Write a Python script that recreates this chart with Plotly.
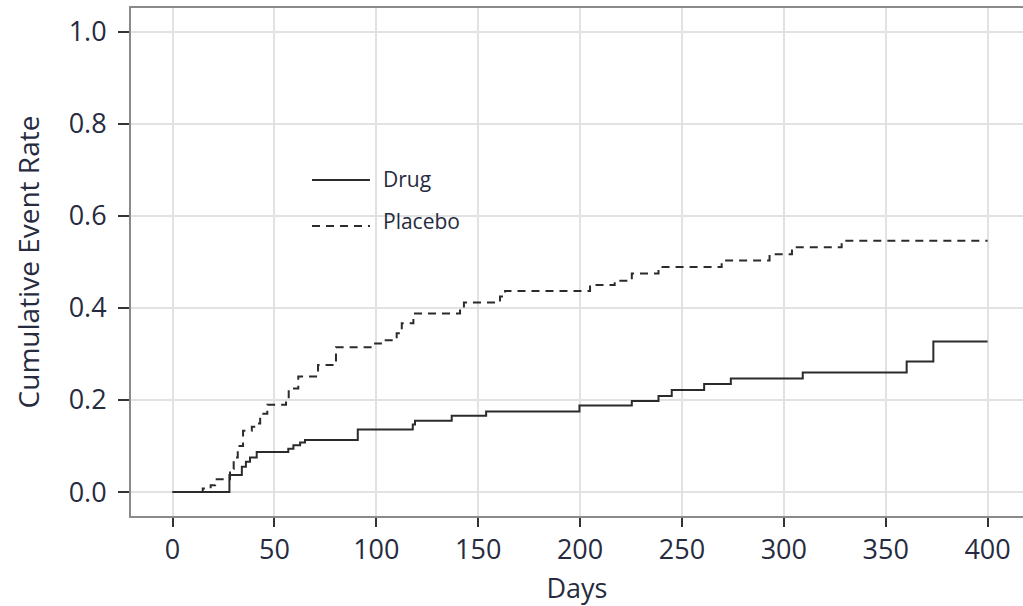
import plotly.graph_objects as go

# Step-function data (days, cumulative event rate)
drug_days = [0, 27.9, 34, 36, 38, 41.3, 56.8, 59.3, 62.6, 65, 90.9, 117.9, 119, 137, 153.9,
             199.7, 225.4, 238.5, 245, 260.9, 274, 309.3, 360.3, 373.4, 400]
drug_rate = [0, 0.037, 0.055, 0.066, 0.075, 0.087, 0.094, 0.102, 0.108, 0.113, 0.136, 0.147, 0.155, 0.166, 0.175,
             0.188, 0.198, 0.209, 0.222, 0.235, 0.247, 0.26, 0.284, 0.327, 0.327]

placebo_days = [0, 14.8, 18.7, 20.9, 28.2, 30, 32, 34.6, 38.9, 41.3, 43, 46.5, 55.7, 57, 61.7, 71.4, 80.2,
                99.4, 104, 110, 112.5, 118.2, 141.1, 143, 160.7, 163.2, 204.9, 217, 225.4, 238.5, 269.5,
                293, 304, 328.4, 400]
placebo_rate = [0, 0.008, 0.015, 0.028, 0.05, 0.075, 0.1, 0.133, 0.142, 0.149, 0.17, 0.19, 0.198, 0.225, 0.251,
                0.276, 0.315, 0.323, 0.33, 0.345, 0.367, 0.388, 0.398, 0.412, 0.425, 0.437, 0.45, 0.459,
                0.475, 0.489, 0.503, 0.517, 0.532, 0.546, 0.546]

x_ticks = [0, 50, 100, 150, 200, 250, 300, 350, 400]
y_ticks = [0.0, 0.2, 0.4, 0.6, 0.8, 1.0]
y_tick_text = ["0.0", "0.2", "0.4", "0.6", "0.8", "1.0"]

FONT = "Open Sans"
LINE_COLOR = "#2b2b2b"
TEXT_COLOR = "#262b40"

fig = go.Figure()
fig.add_trace(go.Scatter(x=drug_days, y=drug_rate, mode="lines", name="Drug",
                         line=dict(shape="hv", color=LINE_COLOR, width=2)))
fig.add_trace(go.Scatter(x=placebo_days, y=placebo_rate, mode="lines", name="Placebo",
                         line=dict(shape="hv", color=LINE_COLOR, width=2, dash="8px,6px")))

# Manual legend (paper coordinates)
fig.add_shape(type="line", xref="paper", yref="paper", x0=0.2029, x1=0.2679, y0=0.6614, y1=0.6614,
              line=dict(color=LINE_COLOR, width=2))
fig.add_shape(type="line", xref="paper", yref="paper", x0=0.2029, x1=0.2679, y0=0.5709, y1=0.5709,
              line=dict(color=LINE_COLOR, width=2, dash="8px,6px"))
fig.add_annotation(xref="paper", yref="paper", x=0.2805, y=0.664, text="Drug", showarrow=False,
                   xanchor="left", yanchor="middle", font=dict(family=FONT, size=21, color=TEXT_COLOR))
fig.add_annotation(xref="paper", yref="paper", x=0.2805, y=0.5807, text="Placebo", showarrow=False,
                   xanchor="left", yanchor="middle", font=dict(family=FONT, size=21, color=TEXT_COLOR))

fig.update_layout(
    width=1023, height=606,
    margin=dict(l=131, r=0, t=8, b=90),
    paper_bgcolor="white", plot_bgcolor="white",
    showlegend=False,
    font=dict(family=FONT, size=27, color=TEXT_COLOR),
)
fig.update_xaxes(
    range=[-20.4, 417.4], tickvals=x_ticks, ticks="outside", ticklen=9, tickwidth=2, tickcolor="#333",
    showline=True, linecolor="#8a8a8a", linewidth=2, mirror=True,
    showgrid=True, gridcolor="#e2e2e2", gridwidth=2, zeroline=False,
    title=dict(text="Days", font=dict(family=FONT, size=27, color=TEXT_COLOR), standoff=14),
    tickfont=dict(family=FONT, size=27, color=TEXT_COLOR),
)
fig.update_yaxes(
    range=[-0.052, 1.052], tickvals=y_ticks, ticktext=y_tick_text, ticks="outside", ticklen=11, tickwidth=2,
    tickcolor="#333", showline=True, linecolor="#8a8a8a", linewidth=2, mirror=False,
    showgrid=True, gridcolor="#e2e2e2", gridwidth=2, zeroline=False, ticklabelstandoff=6,
    title=dict(text="Cumulative Event Rate", font=dict(family=FONT, size=28, color=TEXT_COLOR), standoff=21),
    tickfont=dict(family=FONT, size=27, color=TEXT_COLOR),
)

fig.write_html("out.html")
